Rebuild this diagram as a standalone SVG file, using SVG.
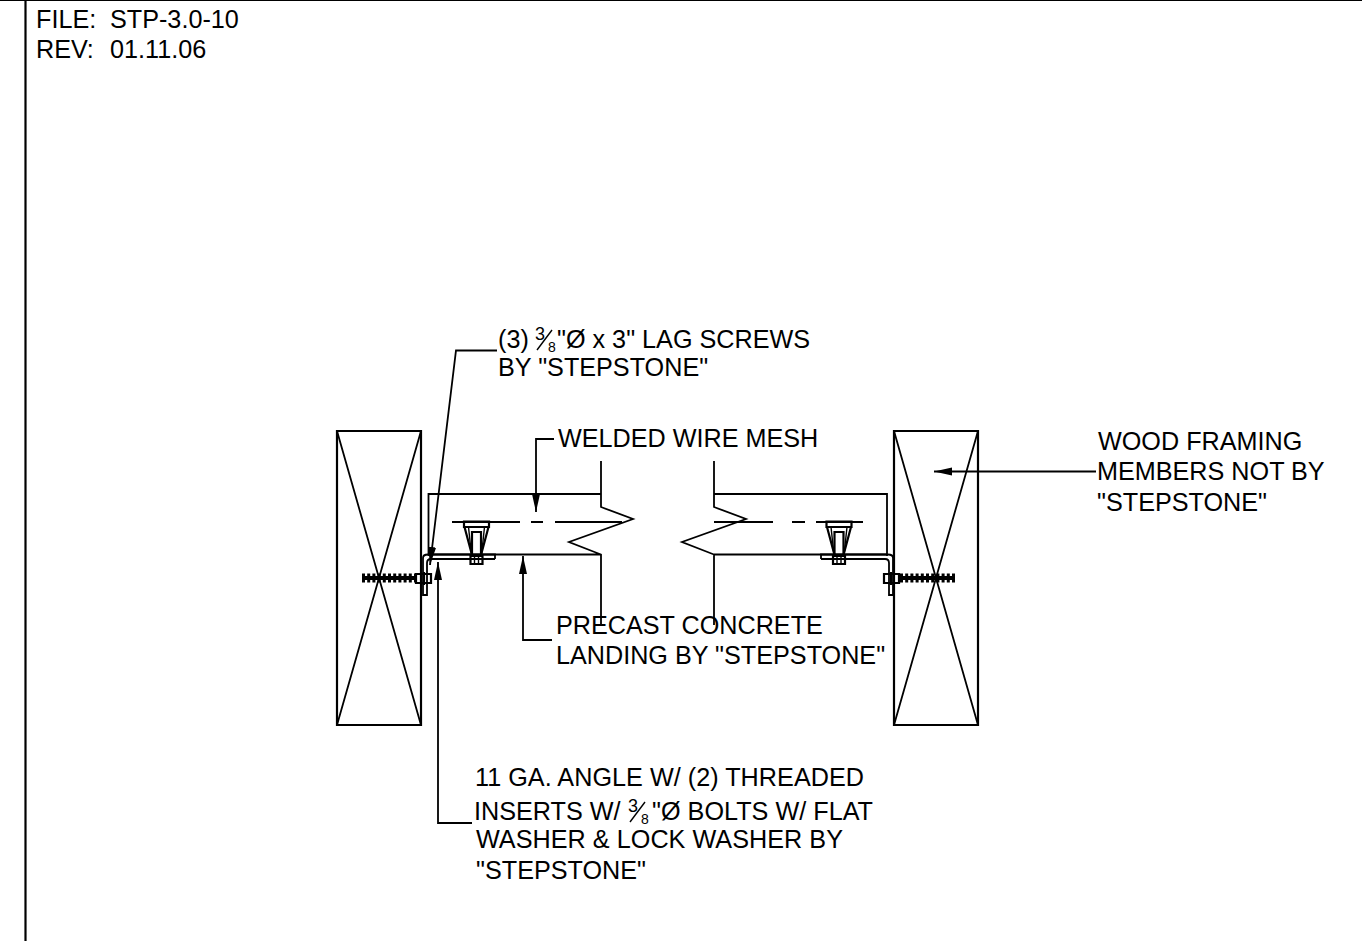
<svg xmlns="http://www.w3.org/2000/svg" width="1362" height="941" viewBox="0 0 1362 941">
<defs>
<style>
text{font-family:"Liberation Sans",Arial,sans-serif;font-size:25.2px;fill:#000}
.n{font-size:18px}
.d{font-size:14px}
.l{fill:none;stroke:#000;stroke-width:1.8}
.t{fill:none;stroke:#000;stroke-width:2.2}
.h{fill:none;stroke:#000;stroke-width:1.4}
.g{fill:none;stroke:#000;stroke-width:1.8}
.core{fill:none;stroke:#000;stroke-width:4}
.th{fill:none;stroke:#000;stroke-width:9;stroke-dasharray:3 2.2}
</style>
<marker id="a" markerUnits="userSpaceOnUse" markerWidth="20" markerHeight="10" refX="18" refY="5" orient="auto"><path d="M0 1L18 5L0 9z" fill="#000"/></marker>
<g id="fix"><path class="t" d="M-12.500 -0.500H12.500V5H-12.500z"/><path class="t" d="M-12 5L-4.500 33M12 5L4.500 33"/><path class="h" d="M-8 5L-5 33M8 5L5 33"/><path class="t" d="M-4.500 10H4.500V34H-4.500z"/><path class="t" d="M-6 34H6V42H-6z"/><path class="h" d="M-2 35V41M2 35V41"/></g>
</defs>
<rect width="1362" height="941" fill="#fff"/>
<g id="frame"><path class="t" d="M25.500 941V0"/><path class="t" d="M0 0H1362"/></g>
<g id="wood-left"><path class="t" d="M337 431H421V725H337z"/><path class="l" d="M337 431L421 725M421 431L337 725"/></g>
<g id="wood-right"><path class="t" d="M894 431H978V725H894z"/><path class="l" d="M894 431L978 725M978 431L894 725"/></g>
<g id="slab-left"><path class="l" d="M601 461V507L633 519L569 542L601 554.500V625M601 494H428.500V556M428 554.500H601"/>
<path class="l" d="M452 522H520M531 522H543M555 522H622"/></g>
<g id="slab-right"><path class="l" d="M714 461V507L746 519L682 542L714 554.500V625M714 494H887V556M714 554.500H887"/>
<path class="l" d="M714 522H773M792 522H805M816 522H863"/></g>
<g id="insert-left"><use href="#fix" transform="translate(476.500 522)"/></g>
<g id="insert-right"><use href="#fix" transform="translate(839 522)"/></g>
<g id="angle-left"><path class="g" d="M495 559H431Q427 559 427 563V595H423V558Q423 554.500 428 554.500H495V559"/></g>
<g id="angle-right"><path class="g" d="M821 559H885Q889 559 889 563V595H893V558Q893 554.500 888 554.500H821V559"/></g>
<g id="screw-left"><path class="core" d="M364 578H416"/><path class="th" d="M362 578H415"/><path class="t" d="M416 574H431V583H416zM424 572V585"/></g>
<g id="screw-right"><path class="core" d="M900 578H952"/><path class="th" d="M900 578H955"/><path class="t" d="M884 574H899V583H884zM891 572V585"/></g>
<g id="connectors">
<path class="l" d="M497 350.500H456L430 565" marker-end="url(#a)"/>
<path class="l" d="M554 439H536V512" marker-end="url(#a)"/>
<path class="l" d="M1096 471.500H934" marker-end="url(#a)"/>
<path class="l" d="M552 640H523V556" marker-end="url(#a)"/>
<path class="l" d="M472 823H438V562" marker-end="url(#a)"/>
</g>
<g id="labels">
<text x="36" y="28">FILE:</text><text x="110" y="28">STP-3.0-10</text>
<text x="36" y="58">REV:</text><text x="110" y="58">01.11.06</text>
<text x="498" y="348">(3)</text><text x="535" y="340" class="n">3</text><path class="h" d="M537 350L552 330"/><text x="548" y="352" class="d">8</text><text x="557" y="348">"Ø x 3" LAG SCREWS</text>
<text x="498" y="376">BY "STEPSTONE"</text>
<text x="558" y="447">WELDED WIRE MESH</text>
<text x="1098" y="450">WOOD FRAMING</text>
<text x="1097" y="480">MEMBERS NOT BY</text>
<text x="1097" y="511">"STEPSTONE"</text>
<text x="556" y="634">PRECAST CONCRETE</text>
<text x="556" y="664">LANDING BY "STEPSTONE"</text>
<text x="475" y="786" textLength="389">11 GA. ANGLE W/ (2) THREADED</text>
<text x="474" y="820">INSERTS W/</text><text x="628" y="812" class="n">3</text><path class="h" d="M630 822L645 802"/><text x="641" y="824" class="d">8</text><text x="652" y="820" textLength="221">"Ø BOLTS W/ FLAT</text>
<text x="476" y="848" textLength="367">WASHER &amp; LOCK WASHER BY</text>
<text x="476" y="879">"STEPSTONE"</text>
</g>
</svg>
